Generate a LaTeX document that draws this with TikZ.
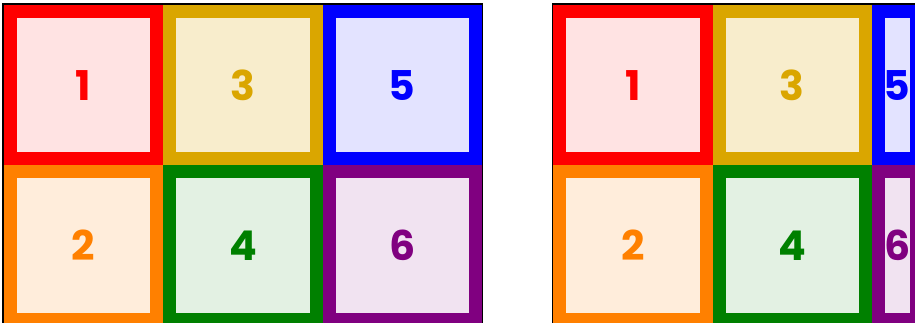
\documentclass[tikz,border=0pt]{standalone}
\usepackage{fontspec}
\newfontfamily\numfont{Poppins}
\definecolor{cred}{HTML}{FF0000}
\definecolor{cgold}{HTML}{DAA600}
\definecolor{cblue}{HTML}{0000FF}
\definecolor{corange}{HTML}{FF8000}
\definecolor{cgreen}{HTML}{008000}
\definecolor{cpurple}{HTML}{800080}
\tikzset{
  cell/.style={draw=#1, text=#1, fill=#1!11, line width=13pt, inner sep=0pt,
    minimum width=146.3pt, minimum height=147.3pt,
    font=\numfont\bfseries\fontsize{41}{41}\selectfont},
  narrowcell/.style={cell=#1, minimum width=38pt},
  frame/.style={draw=black, line width=1.5pt}
}
\begin{document}
\begin{tikzpicture}[x=1pt, y=-1pt]
\useasboundingbox (0,0) rectangle (915,322);
\clip (0,0) rectangle (915,322);
% left container
\node[cell=cred]    (l1) at (83.65,85.15)  {1};
\node[cell=corange, fill=corange!14] (l2) at (83.65,245.45) {2};
\node[cell=cgold, fill=cgold!20] (l3) at (242.95,85.15)  {3};
\node[cell=cgreen]  (l4) at (242.95,245.45) {4};
\node[cell=cblue]   (l5) at (402.25,85.15)  {5};
\node[cell=cpurple] (l6) at (402.25,245.45) {6};
\draw[frame] (3.2,330) -- (3.2,4.2) -- (482.4,4.2) -- (482.4,330);
% right container
\node[cell=cred]    (r1) at (632.95,85.15)  {1};
\node[cell=corange, fill=corange!14] (r2) at (632.95,245.45) {2};
\node[cell=cgold, fill=cgold!20] (r3) at (792.25,85.15)  {3};
\node[cell=cgreen]  (r4) at (792.25,245.45) {4};
\node[narrowcell=cblue]   (r5) at (897.2,85.15)  {5};
\node[narrowcell=cpurple] (r6) at (897.2,245.45) {6};
\draw[frame] (552.5,330) -- (552.5,4.2) -- (1000,4.2);
\end{tikzpicture}
\end{document}
